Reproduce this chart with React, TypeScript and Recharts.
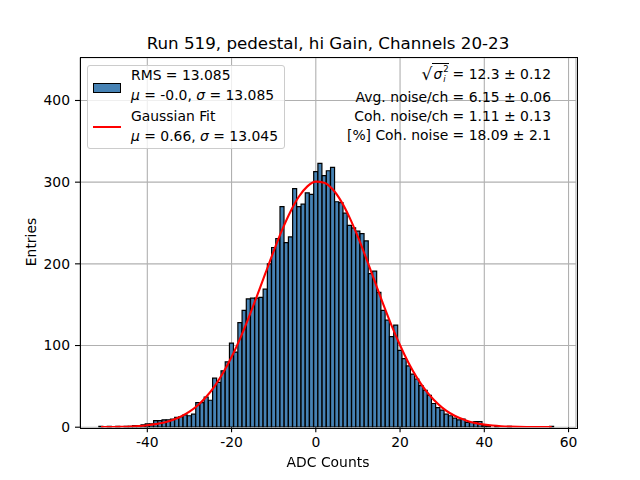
import React from 'react';
import { ComposedChart, Bar, Line, XAxis, YAxis, CartesianGrid } from 'recharts';

// histogram bins (integer ADC values) and their entries
const BIN_CENTERS = [
  -51, -50, -49, -48, -47, -46, -45, -44, -43, -42, -41, -40, -39, -38, -37, -36, -35, -34,
  -33, -32, -31, -30, -29, -28, -27, -26, -25, -24, -23, -22, -21, -20, -19, -18, -17, -16,
  -15, -14, -13, -12, -11, -10, -9, -8, -7, -6, -5, -4, -3, -2, -1, 0, 1, 2, 3, 4, 5, 6, 7,
  8, 9, 10, 11, 12, 13, 14, 15, 16, 17, 18, 19, 20, 21, 22, 23, 24, 25, 26, 27, 28, 29, 30,
  31, 32, 33, 34, 35, 36, 37, 38, 39, 40, 41, 42, 43, 44, 45, 46, 47, 48, 49, 50, 51, 52, 53,
  54, 55, 56,
];
const COUNTS = [
  1, 0, 1, 0, 1, 0, 1, 1, 2, 2, 3, 4, 4, 8, 8, 9, 9, 10,
  12, 13, 15, 14, 16, 30, 30, 37, 33, 60, 55, 69, 80, 103, 92, 128, 143, 157,
  158, 158, 159, 169, 200, 220, 231, 270, 226, 233, 292, 270, 273, 287, 285, 313, 323, 308, 314, 318, 276, 275, 262,
  247, 244, 240, 237, 228, 188, 191, 165, 143, 131, 111, 125, 94, 84, 75, 65, 59, 51, 45, 39, 29, 24, 21,
  16, 14, 11, 9, 10, 6, 6, 7, 7, 2, 1, 0, 1, 0, 0, 1, 0, 0, 0, 0, 0, 0, 0,
  0, 0, 1,
];

// gaussian fit curve
const FIT_X = [
  -51, -50, -48, -46, -44, -42, -40, -38, -36, -34, -32, -30, -28, -26, -24, -22, -20, -18,
  -16, -14, -12, -10, -8, -6, -4, -2, 0, 2, 4, 6, 8, 10, 12, 14, 16, 18, 20, 22, 24, 26, 28,
  30, 32, 34, 36, 38, 40, 42, 44, 46, 48, 50, 52, 54, 56,
];
const FIT_Y = [
  0.12, 0.16, 0.29, 0.5, 0.86, 1.43, 2.34, 3.73, 5.8, 8.82, 13.1, 19.0, 26.9, 37.3, 50.4, 66.6, 85.9, 108.2,
  133.2, 160.1, 187.9, 215.5, 241.5, 264.2, 282.4, 294.8, 300.6, 299.4, 291.3, 276.8, 256.9, 232.9, 206.3, 178.4, 150.8, 124.4, 100.3, 79.0, 60.7, 45.6, 33.5,
  24.0, 16.8, 11.5, 7.7, 5.0, 3.2, 2.0, 1.2, 0.7, 0.4, 0.2, 0.13, 0.07, 0.04,
];

const X_TICKS = [-40, -20, 0, 20, 40, 60];
const Y_TICKS = [0, 100, 200, 300, 400];

const STATS = [
  'Avg. noise/ch = 6.15 \u00b1 0.06',
  'Coh. noise/ch = 1.11 \u00b1 0.13',
  '[%] Coh. noise = 18.09 \u00b1 2.1',
];

const table = BIN_CENTERS.map((x, i) => {
  const j = FIT_X.indexOf(x);
  return { x, count: COUNTS[i], fit: j >= 0 ? FIT_Y[j] : undefined };
});

const FONT = '"DejaVu Sans", sans-serif';
const FS = 13.9;

// plot box, same as matplotlib's default axes rect
const PLOT = { left: 80, top: 57.6, width: 496, height: 369.6 };

const abs = (style: React.CSSProperties): React.CSSProperties => ({
  position: 'absolute',
  whiteSpace: 'nowrap',
  fontFamily: FONT,
  fontSize: FS,
  lineHeight: '16px',
  color: '#000',
  ...style,
});

function SqrtSigma() {
  return (
    <span style={{ display: 'inline-flex', alignItems: 'flex-end' }}>
      <span style={{ fontSize: 17, lineHeight: '20px' }}>{'\u221a'}</span>
      <span style={{ borderTop: '1px solid #000', display: 'inline-flex', alignItems: 'center', paddingLeft: 1, lineHeight: '18px', marginTop: 1 }}>
        <i>{'\u03c3'}</i>
        <span style={{ display: 'inline-flex', flexDirection: 'column', fontSize: 8.5, lineHeight: '10px', marginLeft: 1 }}>
          <span>2</span>
          <i>i</i>
        </span>
      </span>
    </span>
  );
}

export default function App() {
  return (
    <div style={{ position: 'fixed', left: 0, top: 0, width: 640, height: 480, background: '#fff', fontFamily: FONT }}>
      <div style={abs({ left: 0, width: 656, top: 33, textAlign: 'center', fontSize: 16.7, lineHeight: '20px' })}>
        Run 519, pedestal, hi Gain, Channels 20-23
      </div>

      <ComposedChart
        width={640}
        height={480}
        data={table}
        margin={{ top: PLOT.top, right: 640 - PLOT.left - PLOT.width, bottom: 0, left: 0 }}
        barCategoryGap={0}
        barGap={0}
        style={{ position: 'absolute', left: 0, top: 0 }}
      >
        <XAxis
          dataKey="x"
          type="number"
          domain={[-55.98, 61.77]}
          ticks={X_TICKS}
          allowDataOverflow
          height={480 - PLOT.top - PLOT.height}
          axisLine={false}
          tickSize={5}
          tickMargin={5}
          tickLine={{ stroke: '#000', strokeWidth: 1.1 }}
          tick={{ fill: '#000', fontSize: FS, fontFamily: FONT }}
        />
        <YAxis
          type="number"
          domain={[0, 452.5]}
          ticks={Y_TICKS}
          allowDataOverflow
          width={PLOT.left}
          axisLine={false}
          tickSize={5}
          tickMargin={5}
          tickLine={{ stroke: '#000', strokeWidth: 1.1 }}
          tick={{ fill: '#000', fontSize: FS, fontFamily: FONT }}
        />
        <Bar dataKey="count" fill="#4682b4" stroke="#000" strokeWidth={1.2} isAnimationActive={false} />
        <CartesianGrid stroke="#b0b0b0" strokeWidth={1.1} />
        <Line
          dataKey="fit"
          type="monotone"
          stroke="#ff0000"
          strokeWidth={2.1}
          dot={false}
          connectNulls
          isAnimationActive={false}
        />
      </ComposedChart>

      {/* axes frame */}
      <div
        style={{
          position: 'absolute',
          left: PLOT.left - 0.5,
          top: PLOT.top - 0.5,
          width: PLOT.width,
          height: PLOT.height,
          border: '1.1px solid #000',
          pointerEvents: 'none',
        }}
      />

      <div style={abs({ left: 0, width: 656, top: 454, textAlign: 'center' })}>ADC Counts</div>
      <div style={abs({ left: 31, top: 242, transform: 'translate(-50%, -50%) rotate(-90deg)' })}>Entries</div>

      {/* legend */}
      <div
        style={{
          position: 'absolute',
          left: 87,
          top: 65,
          width: 198,
          height: 84,
          border: '1px solid #cccccc',
          borderRadius: 3,
          background: 'rgba(255,255,255,0.8)',
          boxSizing: 'border-box',
        }}
      />
      <div style={{ position: 'absolute', left: 93, top: 83, width: 27.8, height: 9.7, background: '#4682b4', border: '1.2px solid #000', boxSizing: 'border-box' }} />
      <div style={abs({ left: 131, top: 67 })}>RMS = 13.085</div>
      <div style={abs({ left: 131, top: 87 })}>
        <i>{'\u03bc'}</i> = -0.0, <i>{'\u03c3'}</i> = 13.085
      </div>
      <div style={{ position: 'absolute', left: 93, top: 126, width: 27.8, height: 2.1, background: '#ff0000' }} />
      <div style={abs({ left: 131, top: 108 })}>Gaussian Fit</div>
      <div style={abs({ left: 131, top: 128 })}>
        <i>{'\u03bc'}</i> = 0.66, <i>{'\u03c3'}</i> = 13.045
      </div>

      {/* fit summary, right aligned */}
      <div style={abs({ right: 89, top: 62, display: 'flex', alignItems: 'flex-end', lineHeight: '20px' })}>
        <SqrtSigma />
        <span style={{ marginLeft: 4 }}>{'= 12.3 \u00b1 0.12'}</span>
      </div>
      {STATS.map((s, i) => (
        <div key={s} style={abs({ right: 89, top: 89 + i * 19 })}>
          {s}
        </div>
      ))}
    </div>
  );
}
